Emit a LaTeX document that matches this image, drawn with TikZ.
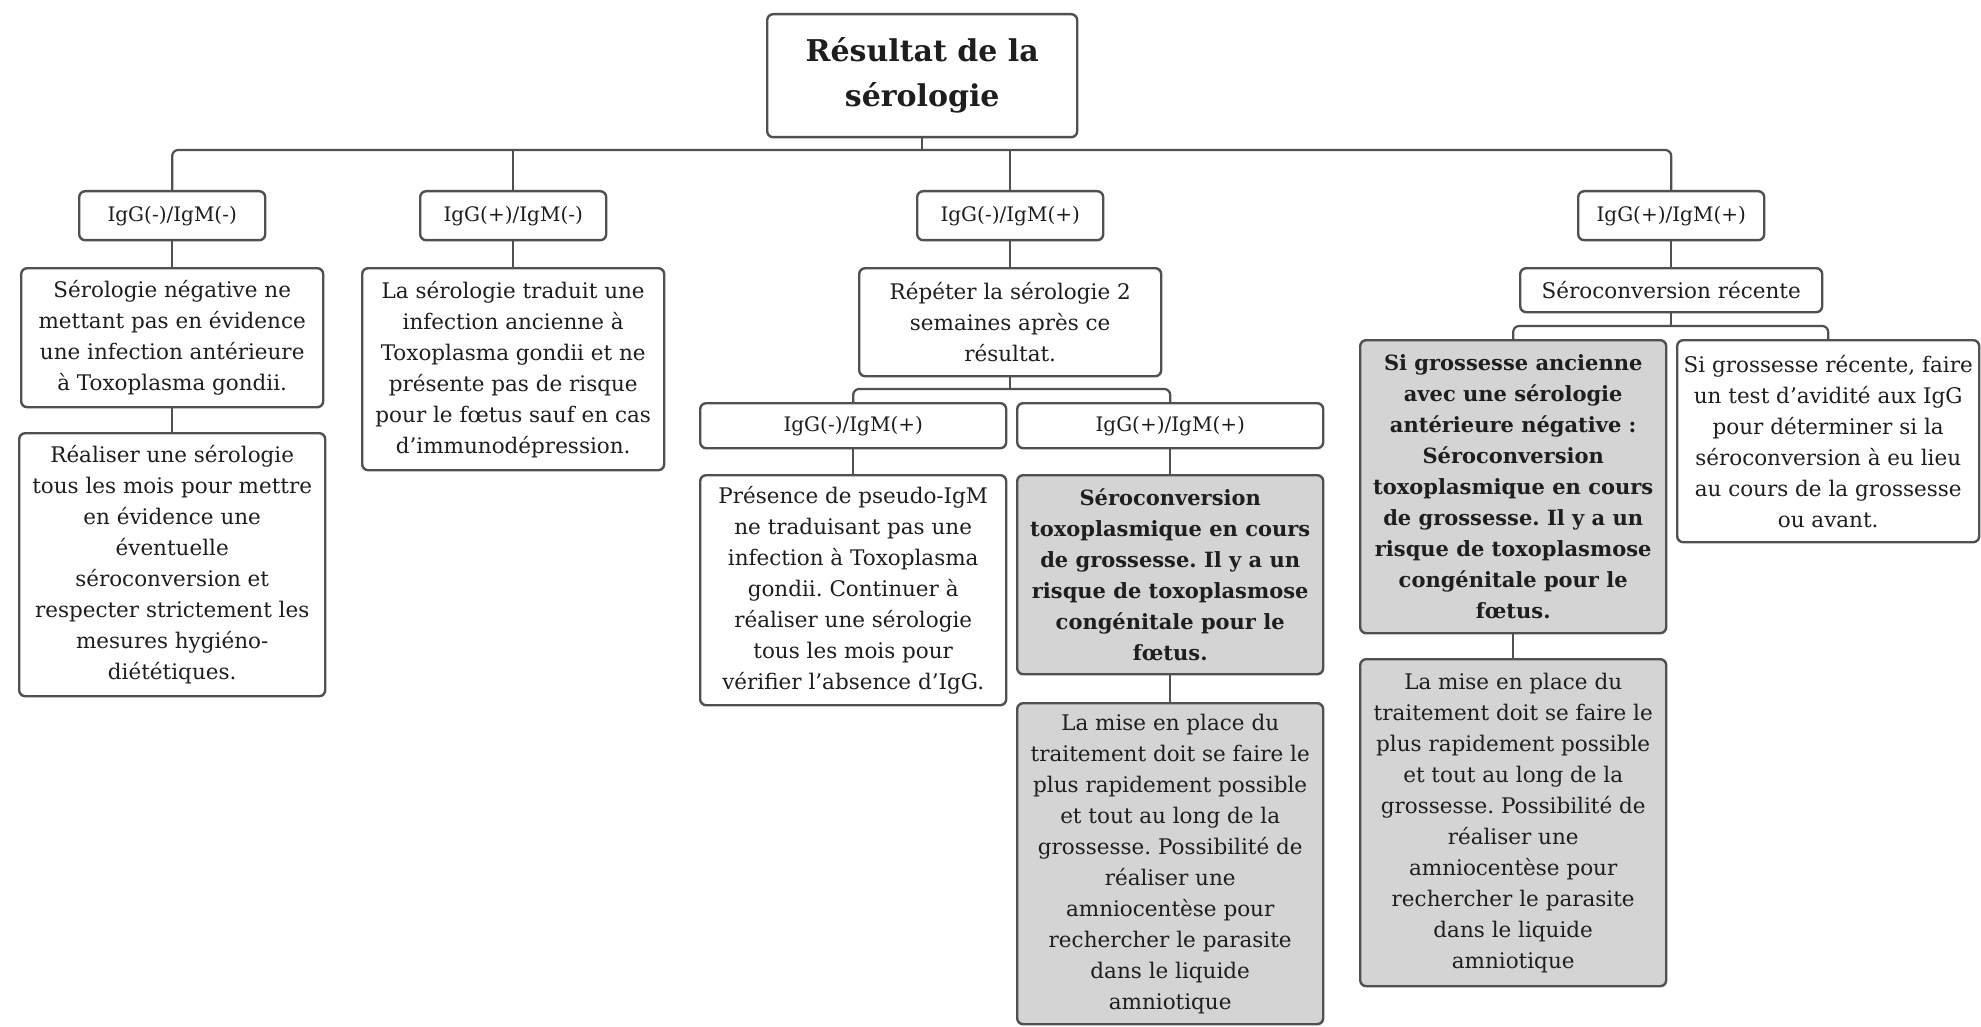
\documentclass[tikz,border=0pt]{standalone}
\usepackage{fontspec}
\setmainfont{DejaVu Serif}
\definecolor{edge}{HTML}{505050}
\definecolor{boxgray}{HTML}{D4D4D4}
\definecolor{ink}{HTML}{1E1E1E}
\frenchspacing
\begin{document}
\begin{tikzpicture}[x=1pt,y=-1pt,
  box/.style={draw=edge, line width=2.4pt, rounded corners=6pt, fill=white, inner sep=0pt,
    align=center, anchor=north west, text=ink, font=\fontsize{21.5}{31}\selectfont},
  gbox/.style={box, fill=boxgray},
  lbl/.style={box, font=\fontsize{20}{31}\selectfont},
  conn/.style={draw=edge, line width=2.2pt, rounded corners=6pt}]
\useasboundingbox (0,0) rectangle (1981,1027);
% root
\node[box, minimum width=310, minimum height=123, font=\fontsize{30}{45}\selectfont\bfseries] (root) at (766,13) {Résultat de la\\sérologie};
% level 1
\node[lbl, minimum width=186, minimum height=49] (A1) at (78,190) {IgG(-)/IgM(-)};
\node[lbl, minimum width=186, minimum height=49] (A2) at (419,190) {IgG(+)/IgM(-)};
\node[lbl, minimum width=186, minimum height=49] (A3) at (916,190) {IgG(-)/IgM(+)};
\node[lbl, minimum width=186, minimum height=49] (A4) at (1577,190) {IgG(+)/IgM(+)};
% level 2
\node[box, minimum width=302, minimum height=139] (B1) at (20,267) {Sérologie négative ne\\mettant pas en évidence\\une infection antérieure\\à Toxoplasma gondii.};
\node[box, minimum width=302, minimum height=202] (B2) at (361,267) {La sérologie traduit une\\infection ancienne à\\Toxoplasma gondii et ne\\présente pas de risque\\pour le fœtus sauf en cas\\d'immunodépression.};
\node[box, minimum width=302, minimum height=108] (B3) at (858,267) {Répéter la sérologie 2\\semaines après ce\\résultat.};
\node[box, minimum width=302, minimum height=44] (B4) at (1519,267) {Séroconversion récente};
% level 3
\node[box, minimum width=306, minimum height=263] (C1) at (18,432) {Réaliser une sérologie\\tous les mois pour mettre\\en évidence une\\éventuelle\\séroconversion et\\respecter strictement les\\mesures hygiéno-\\diététiques.};
\node[lbl, minimum width=306, minimum height=45] (C2) at (699,402) {IgG(-)/IgM(+)};
\node[lbl, minimum width=306, minimum height=45] (C3) at (1016,402) {IgG(+)/IgM(+)};
\node[gbox, minimum width=306, minimum height=293, font=\fontsize{21}{31}\selectfont\bfseries] (C4) at (1359,339) {Si grossesse ancienne\\avec une sérologie\\antérieure négative :\\Séroconversion\\toxoplasmique en cours\\de grossesse. Il y a un\\risque de toxoplasmose\\congénitale pour le\\fœtus.};
\node[box, minimum width=302, minimum height=202] (C5) at (1676,339) {Si grossesse récente, faire\\un test d'avidité aux IgG\\pour déterminer si la\\séroconversion à eu lieu\\au cours de la grossesse\\ou avant.};
% level 4
\node[box, minimum width=306, minimum height=230] (D2) at (699,474) {Présence de pseudo-IgM\\ne traduisant pas une\\infection à Toxoplasma\\gondii. Continuer à\\réaliser une sérologie\\tous les mois pour\\vérifier l'absence d'IgG.};
\node[gbox, minimum width=306, minimum height=199, font=\fontsize{21}{31}\selectfont\bfseries] (D3) at (1016,474) {Séroconversion\\toxoplasmique en cours\\de grossesse. Il y a un\\risque de toxoplasmose\\congénitale pour le\\fœtus.};
\node[gbox, minimum width=306, minimum height=327] (D4) at (1359,658) {La mise en place du\\traitement doit se faire le\\plus rapidement possible\\et tout au long de la\\grossesse. Possibilité de\\réaliser une\\amniocentèse pour\\rechercher le parasite\\dans le liquide\\amniotique};
% level 5
\node[gbox, minimum width=306, minimum height=321] (E3) at (1016,702) {La mise en place du\\traitement doit se faire le\\plus rapidement possible\\et tout au long de la\\grossesse. Possibilité de\\réaliser une\\amniocentèse pour\\rechercher le parasite\\dans le liquide\\amniotique};
% connectors
\coordinate (bus) at (0,150);
\draw[conn] (root.south) -- (root.south |- bus);
\draw[conn] (A1.north) -- (A1.north |- bus) -- (A4.north |- bus) -- (A4.north);
\draw[conn] (A2.north) -- (A2.north |- bus);
\draw[conn] (A3.north) -- (A3.north |- bus);
\draw[conn] (A1) -- (B1);
\draw[conn] (A2) -- (B2);
\draw[conn] (A3) -- (B3);
\draw[conn] (A4) -- (B4);
\draw[conn] (B1) -- (C1);
\coordinate (sb3) at (0,389);
\draw[conn] (B3.south) -- (B3.south |- sb3);
\draw[conn] (C2.north) -- (C2.north |- sb3) -- (C3.north |- sb3) -- (C3.north);
\coordinate (sb4) at (0,326);
\draw[conn] (B4.south) -- (B4.south |- sb4);
\draw[conn] (C4.north) -- (C4.north |- sb4) -- (C5.north |- sb4) -- (C5.north);
\draw[conn] (C2) -- (D2);
\draw[conn] (C3) -- (D3);
\draw[conn] (D3) -- (E3);
\draw[conn] (C4) -- (D4);
\end{tikzpicture}
\end{document}
